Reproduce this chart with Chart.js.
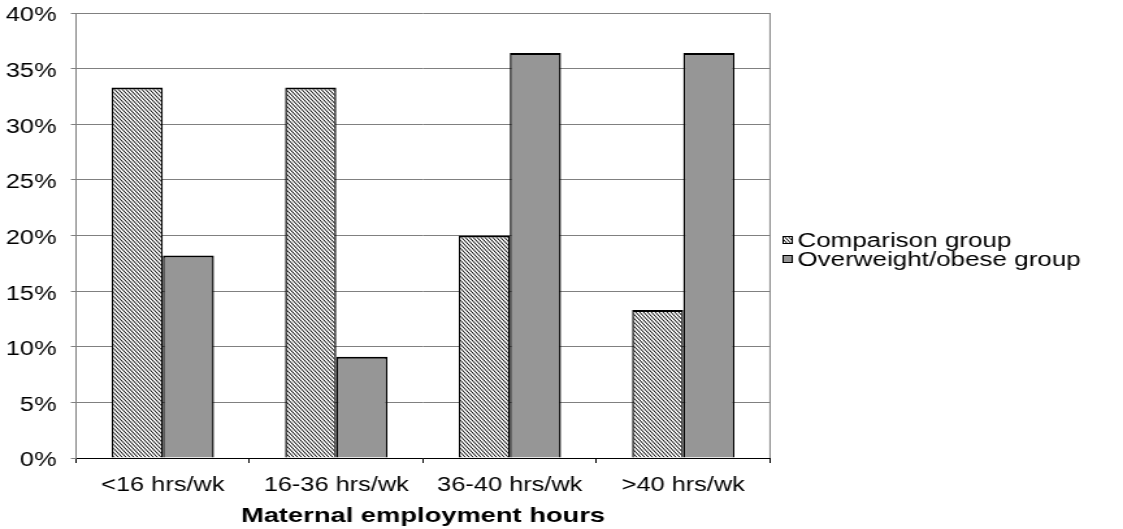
<!DOCTYPE html>
<html>
<head>
<meta charset="utf-8">
<script src="https://cdn.jsdelivr.net/npm/chart.js@4.4.1/dist/chart.umd.min.js"></script>
<style>
  html, body { margin: 0; padding: 0; background: #ffffff; overflow: hidden; }
  /* the chart is drawn on a narrower canvas and widened, giving the broad lettering */
  #wrap { width: 864px; height: 529px; position: relative; transform: scaleX(1.2998); transform-origin: 0 0; }
</style>
</head>
<body>
<div id="wrap"><canvas id="chart"></canvas></div>
<script>
// Share of children in each maternal employment band, by group (percent)
const categories = ['<16 hrs/wk', '16-36 hrs/wk', '36-40 hrs/wk', '>40 hrs/wk'];
const comparisonGroup = [33.3, 33.3, 20.0, 13.3];
const overweightGroup = [18.2, 9.1, 36.4, 36.4];
const seriesNames = ['Comparison group', 'Overweight/obese group'];
const yTickValues = [0, 5, 10, 15, 20, 25, 30, 35, 40];
const axisTitle = 'Maternal employment hours';

const FONT = "'Liberation Sans', Arial, sans-serif";
const GRID = '#808080';
const BAR_GRAY = '#969696';

// Diagonal hatch (top-left to bottom-right) used for the comparison bars
function makeHatch() {
  const c = document.createElement('canvas');
  c.width = 6; c.height = 8;
  const g = c.getContext('2d');
  g.fillStyle = '#ffffff';
  g.fillRect(0, 0, 6, 8);
  g.strokeStyle = '#000000';
  g.lineWidth = 1.0;
  for (let k = -3; k <= 3; k++) {
    g.beginPath();
    g.moveTo(k * 3, 0);
    g.lineTo(k * 3 + 6, 8);
    g.stroke();
  }
  return g.createPattern(c, 'repeat');
}
const hatch = makeHatch();

// Frame line on the right of the plot area
const frame = {
  id: 'frame',
  beforeDatasetsDraw(chart) {
    const { ctx, chartArea: a } = chart;
    ctx.save();
    ctx.strokeStyle = GRID;
    ctx.lineWidth = 1;
    ctx.beginPath();
    ctx.moveTo(a.right, a.top);
    ctx.lineTo(a.right, a.bottom);
    ctx.stroke();
    ctx.restore();
  }
};

// Legend to the right of the plot
const sideLegend = {
  id: 'sideLegend',
  afterDraw(chart) {
    const { ctx } = chart;
    const items = chart.data.datasets;
    const x = 602, y0 = 240, step = 19;
    ctx.save();
    ctx.font = '20px ' + FONT;
    ctx.textBaseline = 'middle';
    ctx.textAlign = 'left';
    items.forEach((ds, i) => {
      const y = y0 + i * step;
      ctx.fillStyle = ds.backgroundColor;
      ctx.fillRect(x, y - 4, 8, 8);
      ctx.strokeStyle = '#000';
      ctx.lineWidth = 1;
      ctx.strokeRect(x + 0.5, y - 3.5, 7, 7);
      ctx.fillStyle = '#000';
      ctx.fillText(ds.label, x + 11.5, y + 1);
    });
    ctx.restore();
  }
};

const barBorder = { top: 2, left: 1.5, right: 1.5, bottom: 0 };

new Chart(document.getElementById('chart'), {
  type: 'bar',
  data: {
    labels: categories,
    datasets: [
      {
        label: seriesNames[0],
        data: comparisonGroup,
        backgroundColor: hatch,
        borderColor: '#000000',
        borderWidth: barBorder,
        borderSkipped: false
      },
      {
        label: seriesNames[1],
        data: overweightGroup,
        backgroundColor: BAR_GRAY,
        borderColor: '#000000',
        borderWidth: barBorder,
        borderSkipped: false
      }
    ]
  },
  options: {
    responsive: true,
    maintainAspectRatio: false,
    animation: false,
    devicePixelRatio: 1,
    layout: { padding: { left: 0, right: 271.6, top: 13, bottom: 0 } },
    datasets: { bar: { categoryPercentage: 0.59, barPercentage: 1.0 } },
    plugins: {
      legend: { display: false },
      tooltip: { enabled: false },
      title: { display: false }
    },
    scales: {
      x: {
        grid: {
          offset: true,
          drawOnChartArea: false,
          drawTicks: true,
          tickLength: 5,
          color: '#000000'
        },
        border: { display: true, color: '#000000', width: 1 },
        ticks: {
          color: '#000000',
          font: { family: FONT, size: 19.5 },
          padding: 11,
          maxRotation: 0
        },
        title: {
          display: true,
          text: axisTitle,
          color: '#000000',
          font: { family: FONT, size: 21, weight: 'bold' },
          padding: { top: 0, bottom: 0 }
        },
        afterFit(scale) { scale.height = 71; }
      },
      y: {
        min: 0,
        max: 40,
        afterBuildTicks(scale) {
          scale.ticks = yTickValues.map(v => ({ value: v }));
        },
        grid: {
          color: GRID,
          lineWidth: 1,
          drawTicks: true,
          tickLength: 4
        },
        border: { display: true, color: GRID, width: 1 },
        ticks: {
          color: '#000000',
          font: { family: FONT, size: 19.5 },
          padding: 11,
          labelOffset: 3,
          callback: v => v + '%'
        },
        afterFit(scale) {
          scale.width = 58.5;
          scale.paddingTop = 0;
          scale.paddingBottom = 0;
        }
      }
    }
  },
  plugins: [frame, sideLegend]
});
</script>
</body>
</html>
